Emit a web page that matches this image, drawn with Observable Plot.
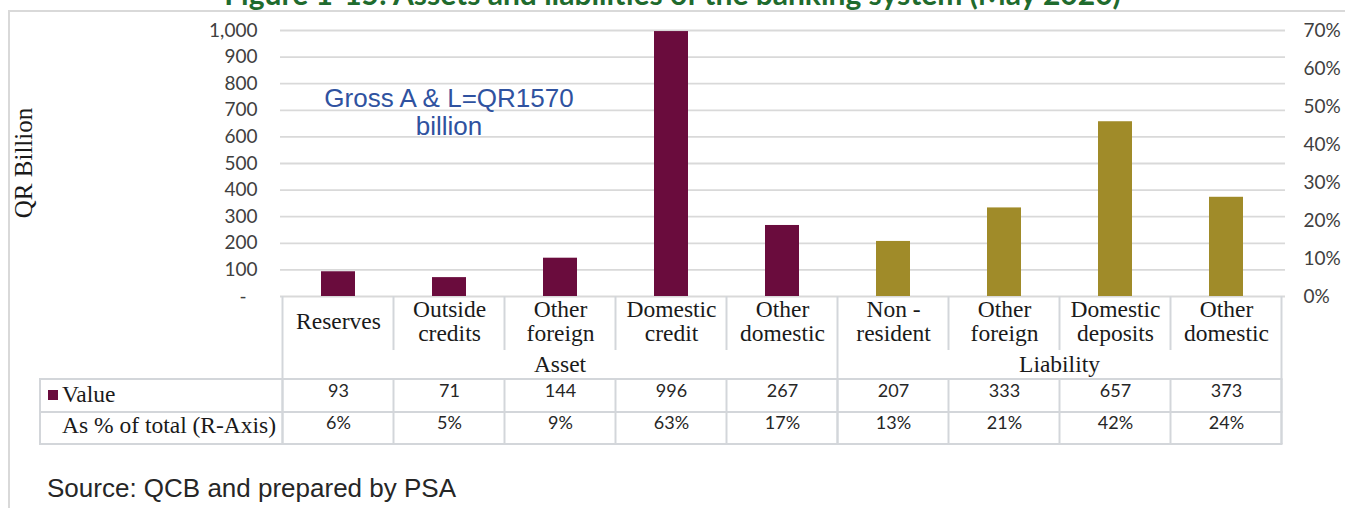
<!DOCTYPE html>
<html><head><meta charset="utf-8">
<script src="https://cdn.jsdelivr.net/npm/d3@7"></script>
<script src="https://cdn.jsdelivr.net/npm/@observablehq/plot@0.6"></script>
<style>
html,body{margin:0;padding:0;background:#fff;overflow:hidden;}
#wrap{position:relative;width:1345px;height:508px;overflow:hidden;background:#fff;}
#frame{position:absolute;left:8px;top:10px;width:1345px;height:510px;border-top:2px solid #d9d9d9;border-left:2px solid #d9d9d9;}
#title{position:absolute;left:0;width:1345px;top:-19px;text-align:center;font-family:Lato;font-weight:bold;font-size:30px;line-height:24px;color:#1f6b2e;white-space:nowrap;}
#chart{position:absolute;left:0;top:0;}
#note{position:absolute;left:249px;width:400px;top:84px;text-align:center;font-family:"Liberation Sans";font-size:26px;line-height:28px;color:#2f52a0;}
#source{position:absolute;left:47px;top:476px;font-family:"Liberation Sans";font-size:26px;line-height:24px;color:#262626;white-space:nowrap;}
</style></head>
<body><div id="wrap"><div id="frame"></div><div id="title">Figure 1-15: Assets and liabilities of the banking system (May 2020)</div><div id="chart"></div><div id="note">Gross A &amp; L=QR1570<br>billion</div><div id="source">Source: QCB and prepared by PSA</div></div>
<script>
const groups = ["Asset","Asset","Asset","Asset","Asset","Liability","Liability","Liability","Liability"];
const categories = ["Reserves","Outside\ncredits","Other\nforeign","Domestic\ncredit","Other\ndomestic","Non -\nresident","Other\nforeign","Domestic\ndeposits","Other\ndomestic"];
const values = [93,71,144,996,267,207,333,657,373];
const shares = [6,5,9,63,17,13,21,42,24];
const groupNames = ["Asset","Liability"];
const leftTicks = [0,100,200,300,400,500,600,700,800,900,1000];
const rightTicks = [0,10,20,30,40,50,60,70];
const seriesNames = ["Value","As % of total (R-Axis)"];
const barColors = ["#6a0c3d","#a08b29"];
const yMax = 1000, rMax = 70;

const keys = categories.map((c,i)=>"c"+i);
const rows = categories.map((c,i)=>({key:keys[i], label:c, group:groups[i], value:values[i], share:shares[i]}));

const serif = "Liberation Serif";
const serifSize = 23.5;
const plot = Plot.plot({
  width:1345, height:460, marginTop:30, marginBottom:164, marginLeft:280, marginRight:60,
  style:{background:"transparent", fontFamily:"Lato", fontSize:"19px", color:"#404040", overflow:"visible"},
  x:{domain:keys, axis:null, paddingInner:0.69, paddingOuter:0.345},
  y:{domain:[0,yMax]},
  color:{domain:groupNames, range:barColors},
  marks:[
    Plot.gridY(leftTicks, {stroke:"#d9d9d9", strokeOpacity:1, strokeWidth:1.8}),
    Plot.axisY(leftTicks, {anchor:"left", tickSize:0, tickPadding:23, label:null, fontSize:19,
      tickFormat:d => d===0 ? "-\u2007" : d3.format(",")(d)}),
    Plot.axisY(rightTicks.map(p=>p*yMax/rMax), {anchor:"right", tickSize:0, tickPadding:18, label:null, fontSize:19,
      tickFormat:d => Math.round(d*rMax/yMax)+"%"}),
    Plot.barY(rows, {x:"key", y:"value", fill:"group"}),
    Plot.text(rows, {x:"key", text:"label", frameAnchor:"bottom", lineAnchor:"middle", dy:25, lineHeight:1.0,
      fontFamily:serif, fontSize:serifSize, fill:"#1a1a1a"}),
    Plot.text(rows, {x:"key", text:d=>String(d.value), frameAnchor:"bottom", dy:100.2, fontSize:18, fill:"#262626"}),
    Plot.text(rows, {x:"key", text:d=>d.share+"%", frameAnchor:"bottom", dy:132.7, fontSize:18, fill:"#262626"})
  ]
});
document.getElementById("chart").appendChild(plot);

// table grid, group labels and row headers, positioned from Plot's own scales
const svg = d3.select(plot);
const xs = plot.scale("x"), ys = plot.scale("y");
const step = xs.step ?? (xs.apply(keys[1]) - xs.apply(keys[0]));
const colL = k => xs.apply(k) - (step - xs.bandwidth)/2;
const bounds = keys.map(colL).concat([colL(keys[keys.length-1]) + step]);
const y0 = ys.apply(0);
const catBottom = y0+54, groupBottom = y0+83, valBottom = y0+116, pctBottom = y0+148;
const headL = 40;
const g = svg.append("g").attr("stroke","#d3d6da").attr("stroke-width",2);
const groupEdges = new Set([0, bounds.length-1]);
groups.forEach((gr,i)=>{ if (i>0 && gr!==groups[i-1]) groupEdges.add(i); });
bounds.forEach((bx,i)=>{
  g.append("line").attr("x1",bx).attr("x2",bx).attr("y1",y0).attr("y2",groupEdges.has(i)?pctBottom:catBottom);
  g.append("line").attr("x1",bx).attr("x2",bx).attr("y1",groupBottom).attr("y2",pctBottom);
});
g.append("line").attr("x1",headL).attr("x2",headL).attr("y1",groupBottom).attr("y2",pctBottom);
[groupBottom, valBottom, pctBottom].forEach(yy=>{
  g.append("line").attr("x1",headL-1).attr("x2",bounds[bounds.length-1]+1).attr("y1",yy).attr("y2",yy);
});
// group labels
groupNames.forEach(name=>{
  const idx = groups.map((gr,i)=>gr===name?i:-1).filter(i=>i>=0);
  const cx = (bounds[idx[0]] + bounds[idx[idx.length-1]+1])/2;
  svg.append("text").attr("x",cx).attr("y",groupBottom-7).attr("text-anchor","middle")
    .attr("font-family",serif).attr("font-size",serifSize).attr("fill","#1a1a1a").text(name);
});
// row headers
svg.append("rect").attr("x",headL+8).attr("y",valBottom-22).attr("width",10).attr("height",10).attr("fill",barColors[0]);
svg.append("text").attr("x",headL+22).attr("y",valBottom-10).attr("text-anchor","start").attr("font-family",serif)
  .attr("font-size",serifSize).attr("fill","#1a1a1a").text(seriesNames[0]);
svg.append("text").attr("x",headL+22).attr("y",pctBottom-11).attr("text-anchor","start").attr("font-family",serif)
  .attr("font-size",serifSize).attr("fill","#1a1a1a").text(seriesNames[1]);
// left axis title
svg.append("text").attr("transform",`translate(32,${(ys.apply(yMax)+y0)/2})rotate(-90)`).attr("text-anchor","middle")
  .attr("font-family",serif).attr("font-size",25).attr("fill","#1a1a1a").text("QR Billion");
</script>
</body></html>
